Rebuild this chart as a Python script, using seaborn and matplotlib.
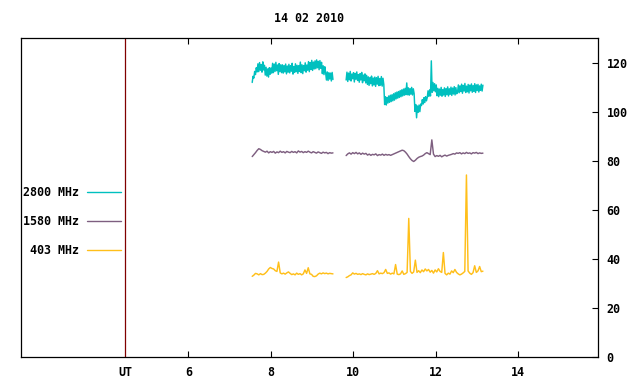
import matplotlib
matplotlib.use("Agg")
import matplotlib.pyplot as plt
from matplotlib.lines import Line2D
import numpy as np
import pandas as pd
import seaborn as sns

# --- data (time in UT hours, flux in s.f.u.) ---
seg1_span = (7.55, 9.51)
seg2_span = (9.83, 13.15)

f2800_seg1 = [
    112.0, 114.5,
    113.8, 116.5, 115.2, 118.0, 116.3,
    119.6, 116.4, 120.1, 117.0, 119.3, 116.2, 120.4, 117.1, 119.0,
    115.0, 118.2, 114.6, 117.5, 114.2, 118.0, 115.3, 117.9, 115.8,
    119.8, 116.0, 119.5, 116.5, 120.2, 116.8, 119.1, 115.3, 119.7, 116.4, 119.2,
    116.0, 119.2, 115.8, 118.9, 116.3, 119.5, 115.5, 118.7, 116.2, 119.4,
    115.9, 118.8, 116.6, 119.8, 115.4, 118.5, 116.1, 119.6, 116.4, 119.0,
    115.7, 118.8, 116.5, 120.3, 116.0, 119.2, 115.6, 118.9, 116.8, 120.0,
    116.2, 119.1,
    117.0, 120.5, 116.4, 120.1, 117.3, 121.0, 116.9, 120.3, 117.5, 120.8,
    117.6, 121.2, 118.0, 120.6, 117.2, 120.9, 117.8, 120.2,
    115.6, 118.8, 115.2, 118.4, 116.0,
    113.0, 116.3, 112.8, 116.0, 113.4, 115.8, 112.6, 116.1, 113.2,
]
f2800_seg2 = [
    113.0, 116.2, 112.4, 115.8, 113.1, 116.5, 112.6, 115.4, 113.5, 116.0,
    112.2, 115.7, 113.3, 116.3, 112.8, 115.2, 112.1, 115.6, 113.0, 116.1,
    111.9, 115.0, 112.7, 115.5, 111.8, 114.9,
    111.2, 114.3, 110.8, 114.0, 111.5, 114.6, 110.6, 113.8, 111.0, 114.2,
    110.4, 113.9, 111.3, 114.5, 110.7, 113.6, 110.9, 114.4, 110.5, 113.7, 111.1,
    103.0, 106.2, 102.8, 105.9, 103.6, 106.5, 103.9, 106.8, 104.2, 107.0,
    104.5, 107.4, 104.8, 107.8, 105.3, 108.1, 105.6, 108.3, 105.9, 108.7,
    106.2, 109.0, 106.5, 109.3, 106.8, 109.6, 107.0,
    111.8,
    107.0, 109.8, 106.8, 109.5, 107.2, 110.0, 106.9, 109.4, 107.5,
    100.2, 103.0, 97.6, 102.4, 99.8, 102.8, 100.1, 103.2,
    102.6, 105.0, 103.2, 105.8, 103.8, 106.2, 104.5,
    105.8, 108.6, 106.3, 109.0, 106.5,
    120.8,
    108.0, 112.0, 108.6, 111.5, 108.2, 111.0,
    106.6, 109.6, 106.2, 109.3, 106.8, 110.0, 106.4, 109.1, 106.9, 109.8,
    106.3, 109.5, 107.0, 110.2, 106.5, 109.4, 107.2, 110.1, 106.7, 109.7,
    107.3, 110.3, 106.9, 109.9, 107.4,
    108.0, 111.0, 107.8, 110.6, 108.3, 111.3, 107.6, 110.8, 108.5, 111.6,
    107.9, 110.5, 108.2, 111.2, 107.7, 110.9, 108.6, 111.4, 108.0, 110.7,
    108.4, 111.5, 107.9, 111.0, 108.7, 111.2, 108.1, 110.6, 108.8, 111.3,
    108.5, 110.9,
]

f1580_seg1 = [
    81.8, 82.6, 83.4, 84.3, 85.0, 84.7, 84.2, 83.9,
    83.6, 84.0, 83.3, 83.8, 83.5, 83.9, 83.2, 83.7, 83.4, 84.0,
    83.5, 83.8, 83.3, 83.9, 83.6, 83.4, 83.9, 83.5, 83.8, 83.3,
    84.1, 83.6, 83.9, 83.4, 83.8, 83.5, 84.0, 83.6, 83.3, 83.8,
    83.5, 83.2, 83.7, 83.4, 83.1, 83.6, 83.3, 83.5, 83.0, 83.4,
    83.2, 83.3,
]
f1580_seg2 = [
    82.2, 82.9, 83.3, 82.8, 83.4, 83.0, 83.5, 82.9, 83.3, 82.7, 83.2, 82.8, 83.1,
    82.4, 82.8, 82.3, 82.7, 82.5, 82.9, 82.2, 82.6, 82.4, 82.8, 82.3, 82.7,
    82.4, 82.6, 82.3,
    82.6, 82.9, 83.2, 83.5, 83.8, 84.1, 84.4, 84.2, 83.6,
    82.8, 81.8, 80.9, 80.2, 79.8, 80.3,
    81.0, 81.5, 81.8, 82.0, 82.4, 83.0, 83.4, 83.0,
    82.6, 88.6, 82.8,
    81.8, 82.2, 81.9, 82.3, 81.7, 82.1, 82.4, 82.0, 82.3, 82.5,
    82.7, 83.0, 82.8, 83.3, 83.1, 83.4, 82.9, 83.3, 83.0, 83.5,
    83.1, 83.3, 82.9, 83.4, 83.2, 83.5, 83.0, 83.3, 83.1, 83.2,
]

f403_seg1 = [
    33.0, 33.5, 34.2, 34.0, 33.6, 34.1, 33.7, 33.8, 34.3, 35.0,
    36.0, 36.6, 36.2, 36.0, 35.3, 35.0, 38.8, 34.4, 34.0, 34.3,
    33.9, 34.4, 34.8, 34.2, 33.7, 34.0, 33.6, 34.3, 33.8, 34.1,
    33.6, 34.0, 35.6, 34.2, 36.5, 34.0, 33.8, 33.0, 32.9, 33.2,
    33.9, 34.3, 34.0, 34.4, 34.1, 34.3, 34.0, 34.2, 34.1, 34.0,
]
f403_seg2 = [
    32.5, 32.8, 33.3, 33.6, 34.4, 33.9, 34.2, 33.8, 34.0, 33.7,
    34.1, 33.8, 33.6, 34.0, 33.7, 33.9, 34.1, 33.8, 34.2, 35.3,
    34.0, 34.3, 34.1, 34.5, 35.8, 34.2, 34.4, 33.9, 34.3, 34.0,
    37.8, 33.9, 33.7, 34.0, 35.2, 33.8, 34.1, 34.6, 56.6, 35.0,
    34.2, 34.8, 39.6, 34.6, 35.3, 34.5, 35.6, 34.9, 36.0, 35.2,
    35.8, 34.7, 35.4, 34.3, 35.6, 34.8, 36.1, 35.0, 34.6, 42.7,
    34.2, 33.6, 34.3, 33.9, 35.2, 34.5, 35.8, 34.6, 34.0, 33.6,
    33.9, 34.4, 35.0, 74.3, 35.2, 34.3, 33.8, 34.5, 37.3, 34.6,
    35.2, 37.0, 34.9, 35.1,
]

bands = ["2800 MHz", "1580 MHz", "403 MHz"]
band_colors = {"2800 MHz": "#00c0bf", "1580 MHz": "#7e5f80", "403 MHz": "#ffbf1a"}
title = "14 02 2010"
x_ticks = [4.47, 6, 8, 10, 12, 14]
x_labels = ["UT", "6", "8", "10", "12", "14"]
y_ticks = [0, 20, 40, 60, 80, 100, 120]

# --- assemble long table ---
frames = []
series = {
    "2800 MHz": (f2800_seg1, f2800_seg2),
    "1580 MHz": (f1580_seg1, f1580_seg2),
    "403 MHz": (f403_seg1, f403_seg2),
}
for band, (s1, s2) in series.items():
    for k, (vals, span) in enumerate([(s1, seg1_span), (s2, seg2_span)]):
        t = np.linspace(span[0], span[1], len(vals))
        frames.append(pd.DataFrame({"t": t, "flux": vals, "band": band, "seg": k}))
df = pd.concat(frames, ignore_index=True)

sns.set_theme(style="white")
plt.rcParams["font.family"] = ["DejaVu Sans Mono"]
plt.rcParams["font.weight"] = "bold"
plt.rcParams["text.color"] = "black"

fig = plt.figure(figsize=(6.4, 3.84), dpi=100)
ax = fig.add_axes([0.0323, 0.0695, 0.9025, 0.8308])

sns.lineplot(data=df, x="t", y="flux", hue="band", units="seg", estimator=None,
             palette=band_colors, hue_order=bands, sort=False, linewidth=1.05,
             legend=False, ax=ax)

ax.axvline(x_ticks[0], color="#800000", linewidth=0.9)

ax.set_xlim(1.93, 15.95)
ax.set_ylim(0, 130)
ax.set_xlabel("")
ax.set_ylabel("")

ax.set_xticks(x_ticks)
ax.set_xticklabels(x_labels, fontsize=8.4, fontweight="bold", color="black")
ax.set_yticks(y_ticks)
ax.set_yticklabels([str(v) for v in y_ticks], fontsize=8.4, fontweight="bold", color="black")
ax.yaxis.tick_right()
ax.tick_params(axis="x", direction="in", length=4, width=0.8, top=True, bottom=True,
               pad=6, color="black", labelcolor="black")
ax.tick_params(axis="y", direction="in", length=4, width=0.8, left=False, right=True,
               labelleft=False, labelright=True, pad=6, color="black", labelcolor="black")
ax.xaxis.get_major_ticks()[0].tick1line.set_visible(False)
ax.xaxis.get_major_ticks()[0].tick2line.set_visible(False)

for sp in ax.spines.values():
    sp.set_color("black")
    sp.set_linewidth(0.9)

ax.set_title(title, fontsize=8.4, fontweight="bold", color="black", pad=11.5)

handles = [Line2D([], [], color=band_colors[b], linewidth=1.0) for b in bands]
labels = ["2800 MHz", "1580 MHz", " 403 MHz"]
leg = ax.legend(handles, labels, loc="upper right", bbox_to_anchor=(121 / 640, 1 - 185.7 / 384),
                bbox_transform=fig.transFigure, frameon=False, markerfirst=False,
                borderpad=0, borderaxespad=0, handlelength=2.9, handletextpad=0.7,
                labelspacing=1.37,
                prop={"size": 8.4, "weight": "bold", "family": "DejaVu Sans Mono"})
for txt in leg.get_texts():
    txt.set_color("black")

fig.savefig("out.png", dpi=100)
